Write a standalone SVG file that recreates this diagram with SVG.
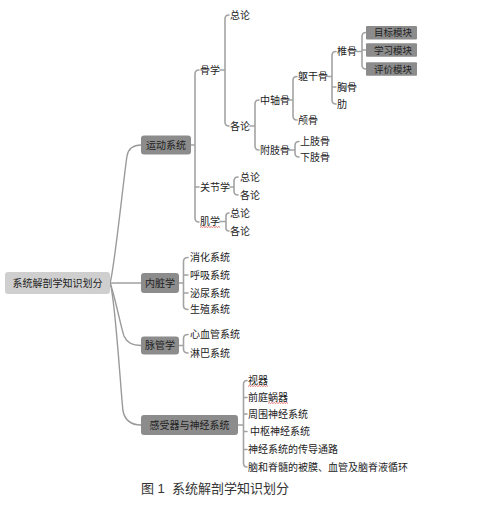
<svg xmlns="http://www.w3.org/2000/svg" width="483" height="513" viewBox="0 0 483 513">
<style>
text{font-family:"Liberation Sans","Noto Sans CJK SC",sans-serif;font-size:10px;fill:#222;dominant-baseline:central}
.c{text-anchor:middle}
.root{fill:#cfcfcf}
.l1{fill:#8c8c8c}
.mod{fill:#8c8c8c}
.ln{fill:none;stroke:#a3a3a3;stroke-width:1.6;stroke-linecap:round}
.rl{fill:none;stroke:#9a9a9a;stroke-width:1.4}
.sq{fill:none;stroke:#d9534f;stroke-width:0.8}
.cap{font-size:13px;fill:#333}
</style>
<rect width="483" height="513" fill="#ffffff"/>
<g id="connectors">
<path class="rl" d="M110,283 C114,272 124,175 127,156 Q129,145 141,145"/>
<path class="rl" d="M110,283 H141"/>
<path class="rl" d="M110,283 C114,292 121,328 124,336 Q128,345.5 141,345.5"/>
<path class="rl" d="M110,283 C115,295 121,395 123,411 Q126,425 141,425"/>
<path class="ln" d="M191,145 H195 M199,70 Q195,70 195,74 V218 Q195,222 199,222 M195,187 H199"/>
<path class="ln" d="M220,70 H225 M229,15 Q225,15 225,19 V122 Q225,126 229,126"/>
<path class="ln" d="M250,126 H255 M259,100 Q255,100 255,104 V146 Q255,150 259,150"/>
<path class="ln" d="M290,100 H293 M297,76.5 Q293,76.5 293,80.5 V116 Q293,120 297,120"/>
<path class="ln" d="M328,76.5 H332 M336,51.5 Q332,51.5 332,55.5 V100 Q332,104 336,104 M332,87 H336"/>
<path class="ln" d="M357,51.5 H362 M366,32.5 Q362,32.5 362,36.5 V65 Q362,69 366,69 M362,50 H366"/>
<path class="ln" d="M290,150 H295 M299,141.5 Q295,141.5 295,145.5 V153 Q295,157 299,157"/>
<path class="ln" d="M230,187 H234 M238,177 Q234,177 234,181 V191 Q234,195 238,195"/>
<path class="ln" d="M220,221.5 H226 M229,213 Q226,213 226,216 V228 Q226,231 229,231"/>
<path class="ln" d="M179,283 H183.5 M188,257.5 Q183.5,257.5 183.5,261.5 V305.5 Q183.5,309.5 188,309.5 M183.5,275 H188 M183.5,293 H188"/>
<path class="ln" d="M179,345.5 H183.5 M188,334.5 Q183.5,334.5 183.5,338.5 V349 Q183.5,353 188,353"/>
<path class="ln" d="M238,425 H243.5 M247,380.5 Q243.5,380.5 243.5,384.5 V463 Q243.5,467 247,467 M243.5,397.5 H247 M243.5,414 H247 M243.5,431.5 H247 M243.5,449.5 H247"/>
</g>
<g id="root"><rect class="root" x="5" y="272" width="105" height="22" rx="3"/><text class="c" x="57.5" y="283">系统解剖学知识划分</text></g>
<g id="n-yundong"><rect class="l1" x="141" y="135.5" width="50" height="19" rx="3"/><text class="c" x="166" y="145">运动系统</text></g>
<g id="n-neizang"><rect class="l1" x="141" y="273" width="38" height="20" rx="3"/><text class="c" x="160" y="283">内脏学</text></g>
<g id="n-maiguan"><rect class="l1" x="141" y="336.5" width="38" height="18" rx="3"/><text class="c" x="160" y="345.5">脉管学</text></g>
<g id="n-ganjue"><rect class="l1" x="141" y="415" width="97" height="20" rx="3"/><text class="c" x="189.5" y="425">感受器与神经系统</text></g>
<g id="n-guxue"><text x="200" y="70">骨学</text></g>
<g id="n-guxue-zonglun"><text x="230" y="15">总论</text></g>
<g id="n-guxue-gelun"><text x="230" y="126">各论</text></g>
<g id="n-zhongzhougu"><text x="260" y="100">中轴骨</text></g>
<g id="n-fuzhigu"><text x="260" y="150">附肢骨</text></g>
<g id="n-quganugu"><text x="298" y="76.5">躯干骨</text></g>
<g id="n-lugu"><text x="298" y="120">颅骨</text></g>
<g id="n-zhuigu"><text x="337" y="51.5">椎骨</text></g>
<g id="n-xiongu"><text x="337" y="87">胸骨</text></g>
<g id="n-lei"><text x="337" y="104">肋</text></g>
<g id="m-mubiao"><rect class="mod" x="366" y="26" width="51" height="13.5" rx="1"/><text class="c" x="393" y="32.8" style="font-size:9.5px">目标模块</text></g>
<g id="m-xuexi"><rect class="mod" x="366" y="43.3" width="51" height="13.5" rx="1"/><text class="c" x="393" y="50" style="font-size:9.5px">学习模块</text></g>
<g id="m-pingjia"><rect class="mod" x="366" y="62.3" width="51" height="13.5" rx="1"/><text class="c" x="393" y="69" style="font-size:9.5px">评价模块</text></g>
<g id="n-shangzhigu"><text x="300" y="141.5">上肢骨</text></g>
<g id="n-xiazhigu"><text x="300" y="157">下肢骨</text></g>
<g id="n-guanjie"><text x="200" y="187">关节学</text></g>
<g id="n-guanjie-zonglun"><text x="240" y="177">总论</text></g>
<g id="n-guanjie-gelun"><text x="240" y="195">各论</text></g>
<g id="n-jixue"><text x="200" y="221.5">肌学</text><path class="sq" d="M200,227.5 l1.25,-1 l1.25,1 l1.25,-1 l1.25,1 l1.25,-1 l1.25,1 l1.25,-1 l1.25,1 l1.25,-1 l1.25,1 l1.25,-1 l1.25,1 l1.25,-1 l1.25,1 l1.25,-1 l1.25,1"/></g>
<g id="n-jixue-zonglun"><text x="230" y="213">总论</text></g>
<g id="n-jixue-gelun"><text x="230" y="231">各论</text></g>
<g id="n-xiaohua"><text x="190" y="257.5">消化系统</text></g>
<g id="n-huxi"><text x="190" y="275">呼吸系统</text></g>
<g id="n-miniao"><text x="190" y="293">泌尿系统</text></g>
<g id="n-shengzhi"><text x="190" y="309.5">生殖系统</text></g>
<g id="n-xinxueguan"><text x="190" y="334.5">心血管系统</text></g>
<g id="n-linba"><text x="190" y="353">淋巴系统</text></g>
<g id="n-shiqi"><text x="248" y="380.5">视器</text><path class="sq" d="M248,386.5 l1.25,-1 l1.25,1 l1.25,-1 l1.25,1 l1.25,-1 l1.25,1 l1.25,-1 l1.25,1 l1.25,-1 l1.25,1 l1.25,-1 l1.25,1 l1.25,-1 l1.25,1 l1.25,-1 l1.25,1"/></g>
<g id="n-qiantingwoqi"><text x="248" y="397.5">前庭蜗器</text><path class="sq" d="M268,403.5 l1.25,-1 l1.25,1 l1.25,-1 l1.25,1 l1.25,-1 l1.25,1 l1.25,-1 l1.25,1 l1.25,-1 l1.25,1 l1.25,-1 l1.25,1 l1.25,-1 l1.25,1 l1.25,-1 l1.25,1"/></g>
<g id="n-zhouwei"><text x="248" y="414">周围神经系统</text></g>
<g id="n-zhongshu"><text x="250" y="431.5">中枢神经系统</text></g>
<g id="n-chuandao"><text x="248" y="449.5">神经系统的传导通路</text></g>
<g id="n-naoji"><text x="248" y="467">脑和脊髓的被膜、血管及脑脊液循环</text></g>
<text class="cap" x="141" y="488.5" xml:space="preserve">图 1  系统解剖学知识划分</text>
</svg>
